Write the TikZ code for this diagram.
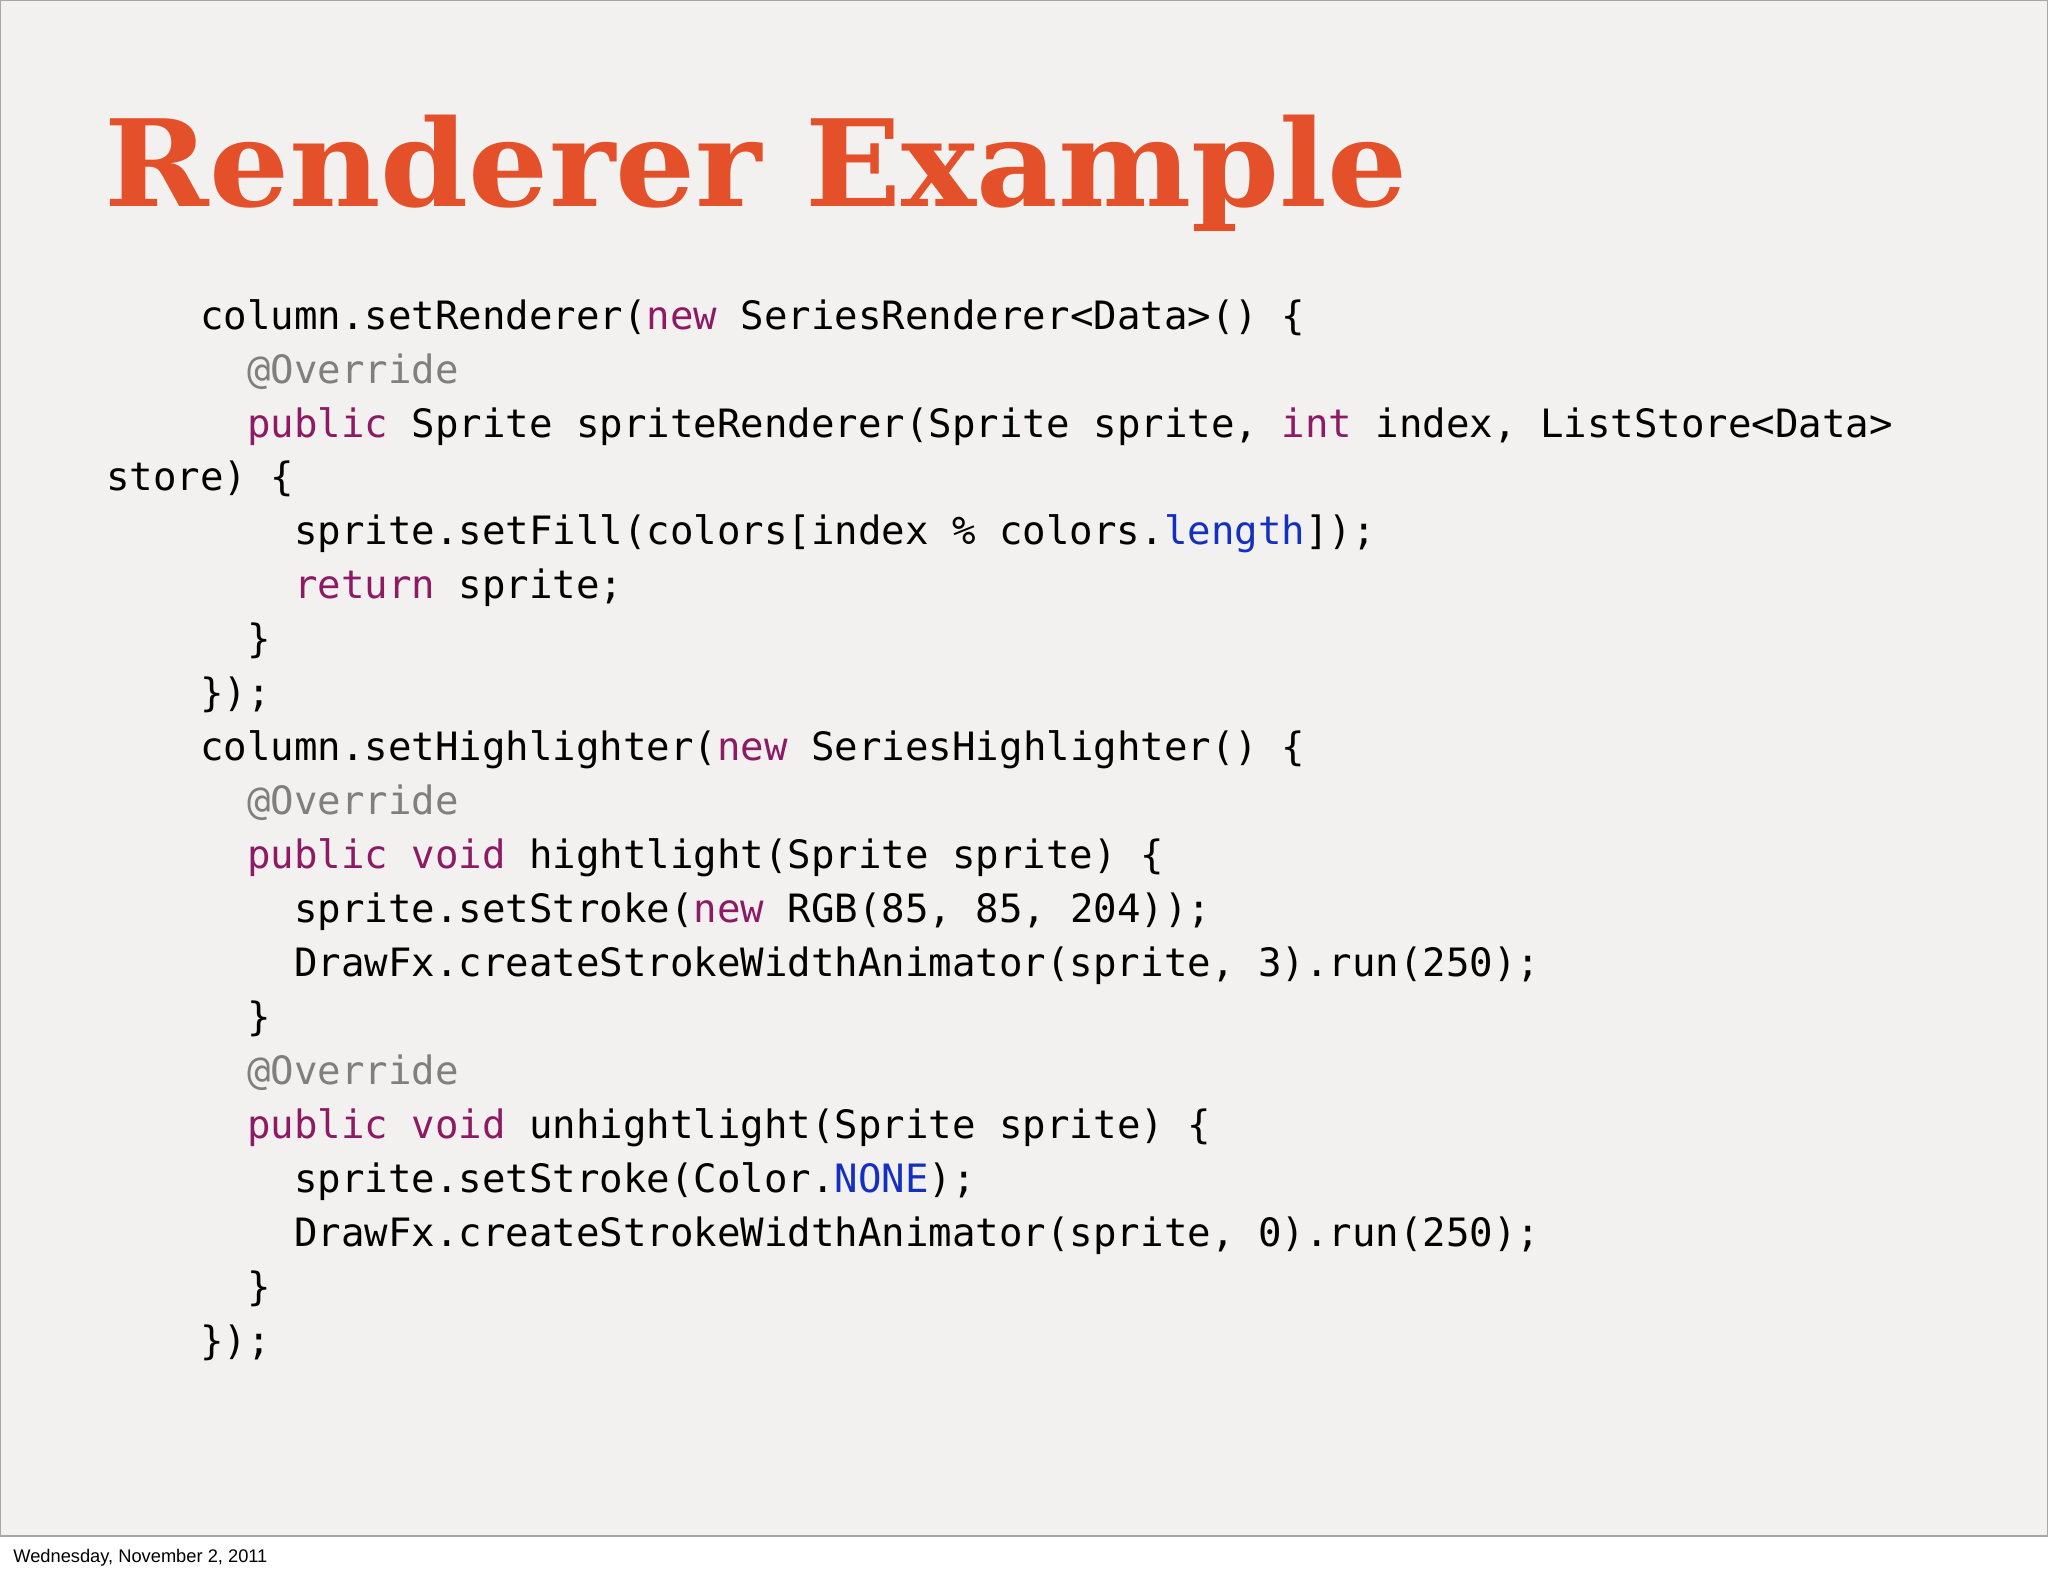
\documentclass[tikz,border=0pt]{standalone}
\usepackage{fontspec}
\setmainfont{Liberation Sans}
\setmonofont{DejaVu Sans Mono}
\newfontfamily\titlefont{DejaVu Serif}
\definecolor{bgc}{HTML}{F2F1EF}
\definecolor{ttl}{HTML}{E4502A}
\definecolor{kw}{HTML}{8E1A66}
\definecolor{an}{HTML}{7F7F7F}
\definecolor{bl}{HTML}{1430C0}
\newcommand{\K}[1]{\textcolor{kw}{#1}}
\newcommand{\A}[1]{\textcolor{an}{#1}}
\newcommand{\B}[1]{\textcolor{bl}{#1}}
\begin{document}
\begin{tikzpicture}[x=1pt,y=1pt,
  code/.style={anchor=base west,inner sep=0pt,font=\ttfamily\fontsize{29.9}{30}\selectfont,text=black}]
\useasboundingbox (0,0) rectangle (1568,-1206);
\fill[white] (0,0) rectangle (1568,-1206);
\fill[bgc] (0,0) rectangle (1568,-1176);
\draw[gray!70,line width=0.8pt] (0.5,-0.5) rectangle (1567.5,-1176);
\node[anchor=base west,inner sep=0pt,text=ttl] (title) at (80,-158)
  {\resizebox{997pt}{70pt}{\titlefont\bfseries Renderer Example}};
\def\L#1#2#3{\node[code] (l#1) at (#2,{-252-41.3*(#1-1)}) {#3};}
\L{1}{153}{column.setRenderer(\K{new} SeriesRenderer<Data>() \{}
\L{2}{189}{\A{@Override}}
\L{3}{189}{\K{public} Sprite spriteRenderer(Sprite sprite, \K{int} index, ListStore<Data>}
\L{4}{81}{store) \{}
\L{5}{225}{sprite.setFill(colors[index \% colors.\B{length}]);}
\L{6}{225}{\K{return} sprite;}
\L{7}{189}{\}}
\L{8}{153}{\});}
\L{9}{153}{column.setHighlighter(\K{new} SeriesHighlighter() \{}
\L{10}{189}{\A{@Override}}
\L{11}{189}{\K{public} \K{void} hightlight(Sprite sprite) \{}
\L{12}{225}{sprite.setStroke(\K{new} RGB(85, 85, 204));}
\L{13}{225}{DrawFx.createStrokeWidthAnimator(sprite, 3).run(250);}
\L{14}{189}{\}}
\L{15}{189}{\A{@Override}}
\L{16}{189}{\K{public} \K{void} unhightlight(Sprite sprite) \{}
\L{17}{225}{sprite.setStroke(Color.\B{NONE});}
\L{18}{225}{DrawFx.createStrokeWidthAnimator(sprite, 0).run(250);}
\L{19}{189}{\}}
\L{20}{153}{\});}
\node[anchor=base west,inner sep=0pt,font=\fontsize{14}{16}\selectfont] (foot) at (10,-1196) {Wednesday, November 2, 2011};
\end{tikzpicture}
\end{document}
